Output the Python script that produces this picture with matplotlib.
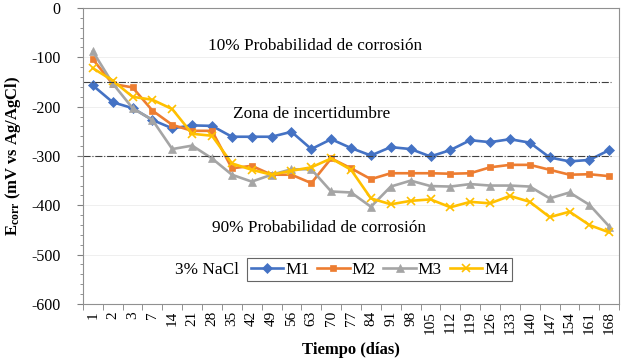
import numpy as np
import matplotlib
matplotlib.use("Agg")
import matplotlib.pyplot as plt

plt.rcParams['font.family'] = ['Liberation Serif', 'DejaVu Serif']
plt.rcParams['mathtext.fontset'] = 'custom'
plt.rcParams['mathtext.rm'] = 'Liberation Serif'
plt.rcParams['mathtext.bf'] = 'Liberation Serif:bold'
plt.rcParams['axes.unicode_minus'] = False

# dias de exposicion
dias = [1, 2, 3, 7, 14, 21, 28, 35, 42, 49, 56, 63, 70, 77, 84, 91, 98,
        105, 112, 119, 126, 133, 140, 147, 154, 161, 168]

# Ecorr (mV vs Ag/AgCl)
m1 = [-157, -191, -203, -227, -244, -238, -239, -261, -261, -261, -251, -286, -266, -284,
      -299, -282, -286, -301, -288, -268, -272, -266, -273, -303, -311, -308, -288]
m2 = [-104, -154, -161, -208, -237, -249, -249, -325, -320, -338, -338, -355, -305, -325,
      -347, -335, -335, -335, -336, -335, -323, -318, -318, -328, -338, -337, -341]
m3 = [-88, -153, -203, -227, -286, -279, -305, -338, -352, -338, -327, -327, -372, -374,
      -403, -362, -350, -361, -362, -357, -360, -360, -362, -386, -374, -399, -443]
m4 = [-122, -147, -180, -186, -205, -255, -259, -315, -328, -338, -330, -323, -305, -328,
      -386, -398, -391, -388, -404, -393, -396, -381, -393, -424, -413, -440, -455]

series = {'M1': (m1, '#4472C4', 'D', 5),
          'M2': (m2, '#ED7D31', 's', 5),
          'M3': (m3, '#A5A5A5', '^', 6),
          'M4': (m4, '#FFC000', 'x', 6)}

fig = plt.figure(figsize=(6.28, 3.64), dpi=100)
ax = fig.add_axes([0.132, 0.165, 0.854, 0.813])

x = np.arange(len(dias))
for name, (vals, col, mk, ms) in series.items():
    ax.plot(x, vals, color=col, lw=1.9, marker=mk, markersize=ms,
            markeredgewidth=1.2 if mk == 'x' else 0.5, label=name)

ax.axhline(-150, xmax=0.985, color='#404040', lw=0.8, ls='-.')
ax.axhline(-300, xmax=0.985, color='#404040', lw=0.8, ls='-.')

ax.set_ylim(-600, 0)
ax.set_xlim(-0.5, len(dias) - 0.5)
ax.set_yticks(np.arange(-600, 1, 100))
ax.set_yticks(np.arange(-600, 1, 20), minor=True)
ax.yaxis.grid(True, which='major', color='#ececec', lw=0.6)
ax.set_axisbelow(True)
ax.set_xticks(x)
ax.set_xticklabels([str(d) for d in dias], rotation=90, fontsize=11)
ax.set_xticks(np.arange(-0.5, len(dias), 1), minor=True)
ax.tick_params(axis='x', which='major', length=0, pad=5)
ax.tick_params(axis='x', which='minor', length=4, color='#808080')
ax.tick_params(axis='y', which='major', length=4, labelsize=11.5, color='#808080', pad=12)
ax.tick_params(axis='y', which='minor', length=2, color='#808080')
for s in ax.spines.values():
    s.set_color('#909090')
    s.set_linewidth(0.8)

ax.text(0.433, 0.872, '10% Probabilidad de corrosión', transform=ax.transAxes,
        ha='center', va='center', fontsize=12.4)
ax.text(0.427, 0.642, 'Zona de incertidumbre', transform=ax.transAxes,
        ha='center', va='center', fontsize=12.4)
ax.text(0.44, 0.257, '90% Probabilidad de corrosión', transform=ax.transAxes,
        ha='center', va='center', fontsize=12.4)
ax.text(0.232, 0.113, '3% NaCl', transform=ax.transAxes,
        ha='center', va='center', fontsize=12.4)

leg = ax.legend(loc='center', bbox_to_anchor=(0.553, 0.115), ncol=4, fontsize=12.4,
                frameon=True, fancybox=False, edgecolor='#404040', handlelength=1.9,
                handletextpad=0.1, columnspacing=0.45, borderpad=0.2, borderaxespad=0)
leg.get_frame().set_linewidth(0.8)

ax.set_xlabel('Tiempo (días)', fontsize=12, fontweight='bold', labelpad=6)
ax.set_ylabel(r'$\mathbf{E_{corr}}$ (mV vs Ag/AgCl)', fontsize=12, fontweight='bold',
              labelpad=6)

fig.savefig('out.png', dpi=100)
